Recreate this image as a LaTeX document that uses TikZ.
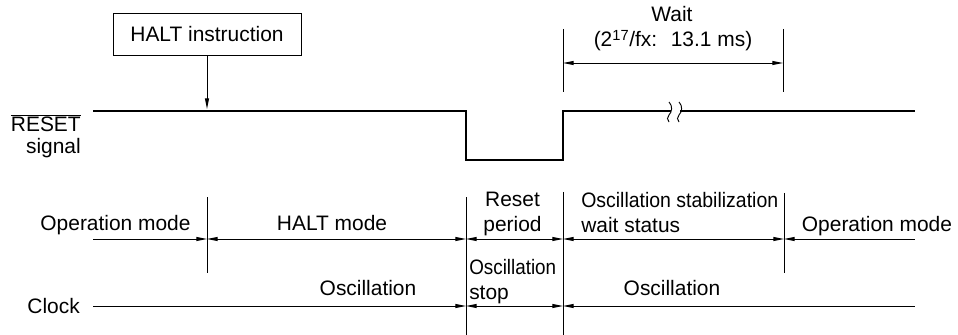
\documentclass[tikz,border=0pt]{standalone}
\usepackage{fontspec}
\setmainfont{Liberation Sans}
\usetikzlibrary{arrows.meta}

\begin{document}
\begin{tikzpicture}[x=0.75pt, y=-0.75pt,
  thinline/.style={line width=0.7pt},
  sigline/.style={line width=2pt, line join=miter},
  tipr/.style={thinline, -{Triangle[length=8pt,width=3pt]}},
  tipl/.style={thinline, {Triangle[length=8pt,width=3pt]}-},
  tipb/.style={thinline, {Triangle[length=8pt,width=3pt]}-{Triangle[length=8pt,width=3pt]}},
  lbl/.style={inner sep=0pt, font=\fontsize{15.7}{18.8}\selectfont}]
% Canvas
\useasboundingbox (0,0) rectangle (958,335);
% HALT instruction box and its pointer
\node[draw, thinline, lbl, minimum width=141pt, minimum height=31.5pt] (haltbox) at (207,34) {HALT instruction};
\coordinate (haltpt) at (207,109);
\draw[tipr] (haltbox.south) -- (haltpt);
% RESET signal waveform
\node[lbl, align=right, anchor=north east] (resetlbl) at (81,114) {$\overline{\mbox{RESET}}$\\[-2pt]signal};
\draw[sigline] (93,111) -- (466,111) -- (466,160) -- (563,160) -- (563,111) -- (671,111);
\draw[sigline] (680,111) -- (915,111);
% Break mark
\foreach \x in {669,679}
  \draw[thinline] (\x,102) .. controls (\x+4,106) and (\x+3,112) .. (\x,115) .. controls (\x-2,117) and (\x-2,120) .. (\x,122);
% Wait dimension
\draw[thinline] (563,29) -- (563,92);
\draw[thinline] (783,29) -- (783,92);
\coordinate (w0) at (563,63);
\coordinate (w1) at (783,63);
\draw[tipb] (w0) -- (w1);
\node[lbl, anchor=base] (waitlbl) at (672,22) {Wait};
\node[lbl, anchor=base] (waittime) at (673,47) {(2\textsuperscript{17}/fx:~ 13.1 ms)};
% Period marks
\foreach \x/\ya/\yb in {207/197/273, 466/197/335, 563/192/335, 784/193/273}
  \draw[thinline] (\x,\ya) -- (\x,\yb);
% Mode row
\coordinate (m0) at (93,239);
\coordinate (m1) at (207,239);
\coordinate (m2) at (466,239);
\coordinate (m3) at (563,239);
\coordinate (m4) at (784,239);
\coordinate (m5) at (915,239);
\draw[tipr] (m0) -- (m1);
\draw[tipb] (m1) -- (m2);
\draw[tipb] (m2) -- (m3);
\draw[tipb] (m3) -- (m4);
\draw[tipl] (m4) -- (m5);
\node[lbl, anchor=base] (opmode1) at (115.5,230) {Operation mode};
\node[lbl, anchor=base] (haltmode) at (332,230) {HALT mode};
\node[lbl, anchor=north, align=center] (resetper) at (512.5,192) {Reset\\period};
\node[lbl, anchor=north west, align=left] (oscwait) at (581,192) {\scalebox{0.93}[1]{Oscillation stabilization}\\wait status};
\node[lbl, anchor=base] (opmode2) at (877,231) {Operation mode};
% Clock row
\coordinate (c0) at (93,306);
\coordinate (c1) at (466,306);
\coordinate (c2) at (563,306);
\coordinate (c3) at (915,306);
\draw[tipr] (c0) -- (c1);
\draw[tipb] (c1) -- (c2);
\draw[tipl] (c2) -- (c3);
\node[lbl, anchor=base east] (clocklbl) at (80,313) {Clock};
\node[lbl, anchor=base] (osc1) at (368,295) {Oscillation};
\node[lbl, anchor=north west, align=left] (oscstop) at (469,259) {\scalebox{0.9}[1]{Oscillation}\\stop};
\node[lbl, anchor=base] (osc2) at (672,295) {Oscillation};
\end{tikzpicture}
\end{document}
